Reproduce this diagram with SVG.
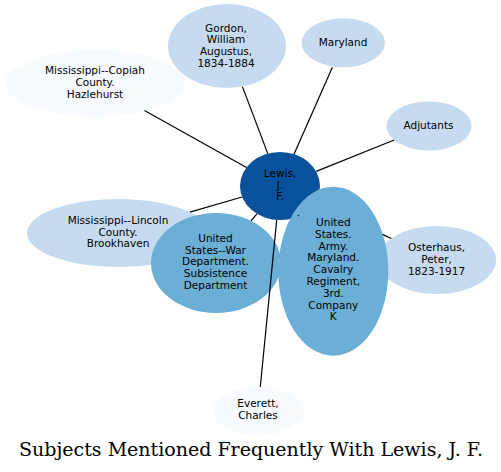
<svg xmlns="http://www.w3.org/2000/svg" width="501" height="472" viewBox="0 0 501 472">
<style>
.n text{font-family:"DejaVu Sans","Verdana",sans-serif;font-size:10.5px;fill:#000;text-anchor:middle}
.c1{fill:#f7fbff}
.c2{fill:#c6dbef}
.c3{fill:#6baed6}
.c4{fill:#08519c}
#edges line{stroke:#000;stroke-width:1.2;fill:none}
.title{font-family:"DejaVu Serif",serif;font-size:19px;fill:#000;text-anchor:middle}
</style>
<rect width="501" height="472" fill="#fff"/>
<g id="node-copiah" class="n">
<ellipse class="c1" cx="95" cy="83.3" rx="90" ry="33.3"/>
<text x="95" y="74.3">Mississippi--Copiah</text>
<text x="95" y="86.1">County.</text>
<text x="95" y="97.9">Hazlehurst</text>
</g>
<g id="node-gordon" class="n">
<ellipse class="c2" cx="227" cy="46" rx="59" ry="42"/>
<text x="226" y="31.6">Gordon,</text>
<text x="226" y="43.4">William</text>
<text x="226" y="55.2">Augustus,</text>
<text x="226" y="67">1834-1884</text>
</g>
<g id="node-maryland" class="n">
<ellipse class="c2" cx="343.3" cy="42.8" rx="41.7" ry="24.5"/>
<text x="343" y="45.7">Maryland</text>
</g>
<g id="node-adjutants" class="n">
<ellipse class="c2" cx="429" cy="126" rx="42.5" ry="24.5"/>
<text x="428.5" y="129">Adjutants</text>
</g>
<g id="node-lewis" class="n">
<ellipse class="c4" cx="280" cy="186" rx="40" ry="34"/>
<text x="280" y="176.8">Lewis,</text>
<text x="280" y="188.6">J.</text>
<text x="280" y="200.4">F.</text>
</g>
<g id="node-lincoln" class="n">
<ellipse class="c2" cx="118" cy="233" rx="91" ry="34"/>
<text x="118" y="223.8">Mississippi--Lincoln</text>
<text x="118" y="235.6">County.</text>
<text x="118" y="247.4">Brookhaven</text>
</g>
<g id="node-war" class="n">
<ellipse class="c3" cx="216" cy="263" rx="65" ry="50"/>
<text x="215.5" y="241.8">United</text>
<text x="215.5" y="253.6">States--War</text>
<text x="215.5" y="265.4">Department.</text>
<text x="215.5" y="277.2">Subsistence</text>
<text x="215.5" y="289">Department</text>
</g>
<g id="node-osterhaus" class="n">
<ellipse class="c2" cx="437" cy="260" rx="59" ry="34"/>
<text x="436.5" y="251">Osterhaus,</text>
<text x="436.5" y="262.8">Peter,</text>
<text x="436.5" y="274.6">1823-1917</text>
</g>
<g id="node-army" class="n">
<ellipse class="c3" cx="333.3" cy="271.2" rx="55" ry="84.5"/>
<text x="333.3" y="226">United</text>
<text x="333.3" y="237.8">States.</text>
<text x="333.3" y="249.6">Army.</text>
<text x="333.3" y="261.4">Maryland.</text>
<text x="333.3" y="273.2">Cavalry</text>
<text x="333.3" y="285">Regiment,</text>
<text x="333.3" y="296.8">3rd.</text>
<text x="333.3" y="308.6">Company</text>
<text x="333.3" y="320.4">K</text>
</g>
<g id="node-everett" class="n">
<ellipse class="c1" cx="258.3" cy="411" rx="45.7" ry="24.2"/>
<text x="258" y="407.3">Everett,</text>
<text x="258" y="419.1">Charles</text>
</g>
<g id="edges">
<line x1="267.8" y1="153.6" x2="242.4" y2="86.6"/>
<line x1="294" y1="154.2" x2="332.4" y2="67.2"/>
<line x1="316.2" y1="171.4" x2="394.2" y2="140"/>
<line x1="246.5" y1="167.4" x2="144.5" y2="110.6"/>
<line x1="242.1" y1="197" x2="189.9" y2="212.2"/>
<line x1="256.9" y1="213.8" x2="251" y2="220.9"/>
<line x1="298.2" y1="215.2" x2="298.9" y2="216.2"/>
<line x1="382.6" y1="234.4" x2="391.3" y2="238.5"/>
<line x1="276.7" y1="219.9" x2="260.3" y2="387"/>
</g>
<text class="title" x="251" y="456">Subjects Mentioned Frequently With Lewis, J. F.</text>
</svg>
